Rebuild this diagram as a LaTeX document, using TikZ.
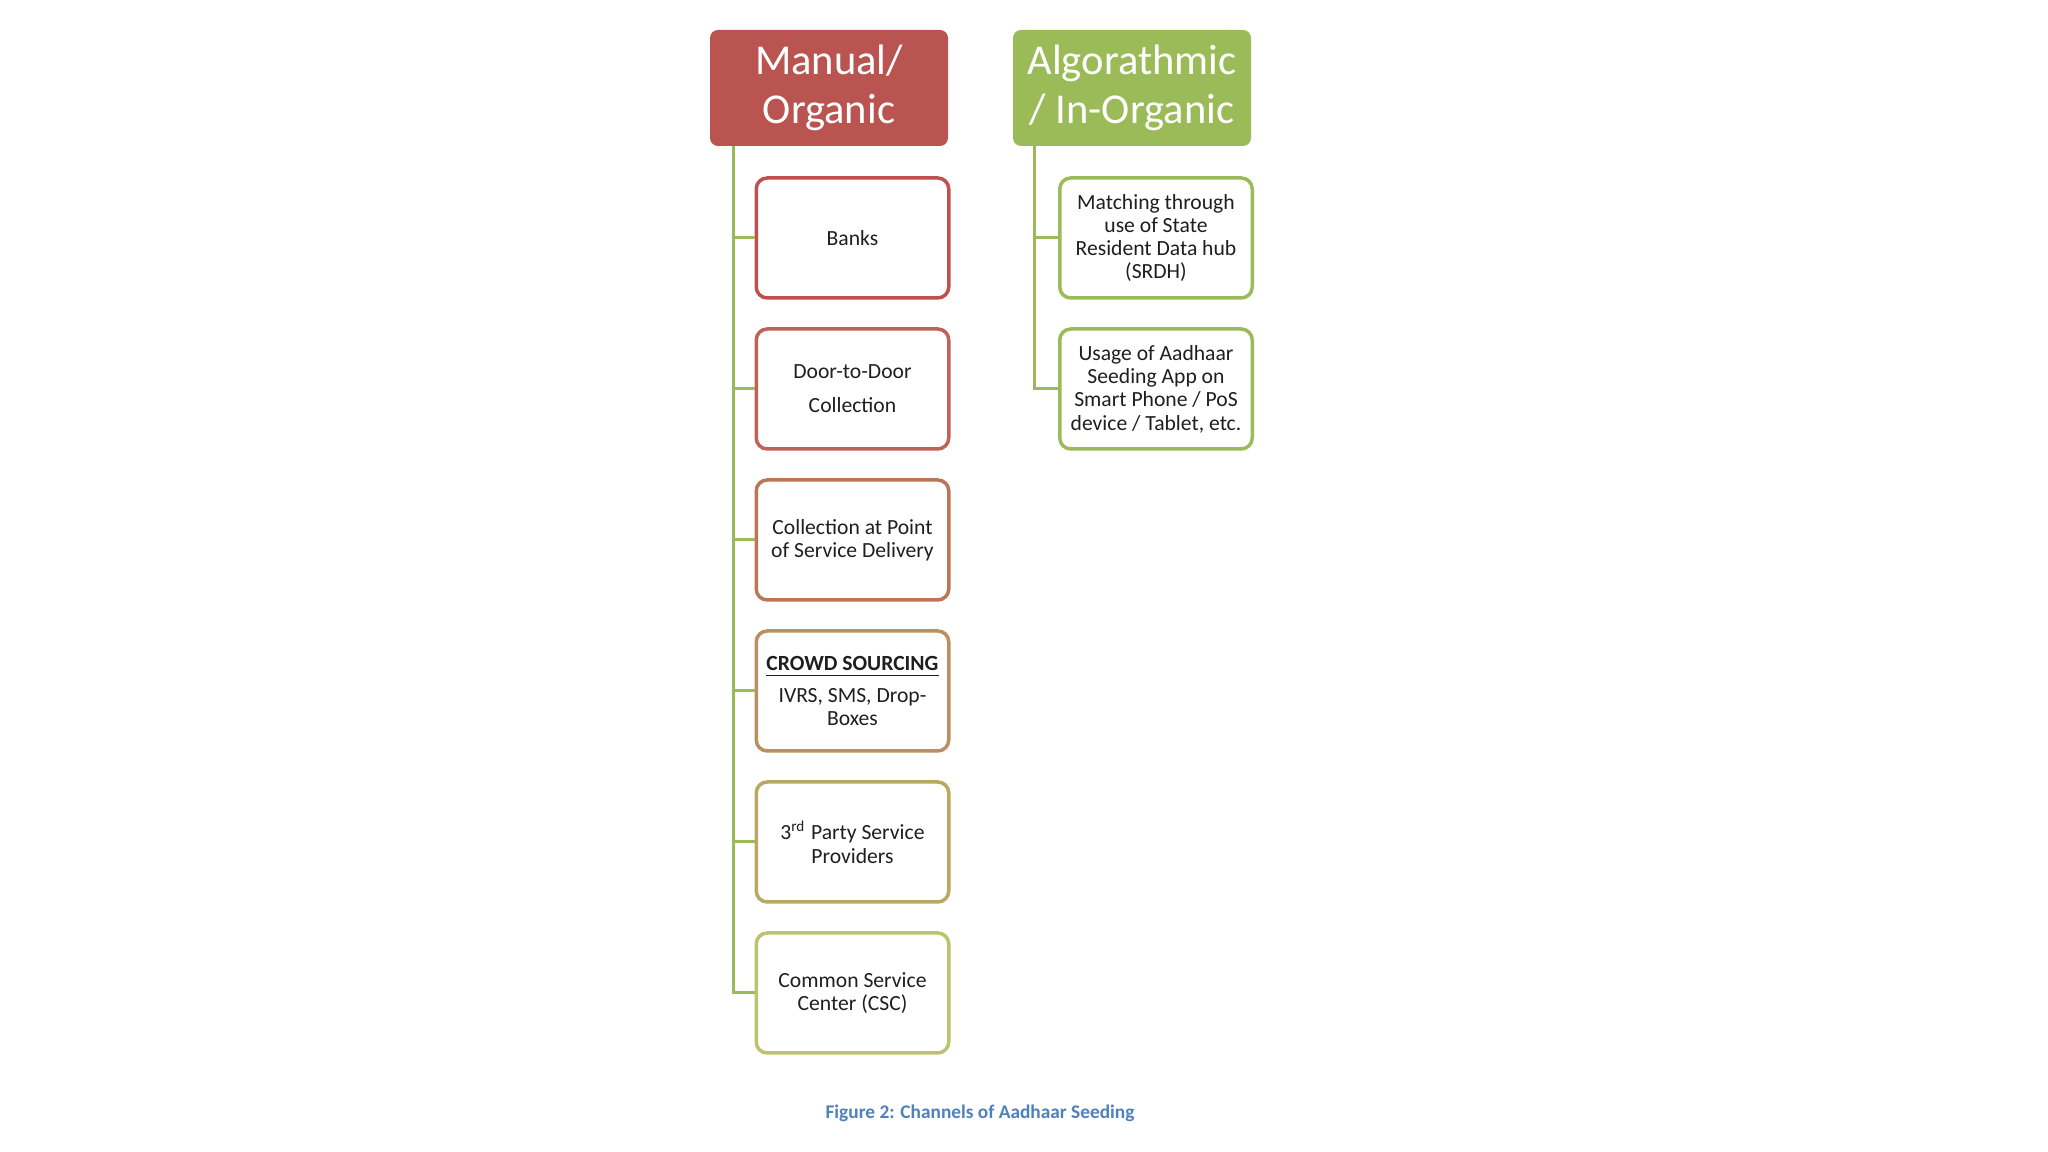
\documentclass[tikz,border=0pt]{standalone}
\usepackage{fontspec}
\setmainfont{Carlito}
\definecolor{headred}{HTML}{B95450}
\definecolor{headgreen}{HTML}{9BBB59}
\definecolor{rimA}{HTML}{C0504D}
\definecolor{rimB}{HTML}{C0625A}
\definecolor{rimC}{HTML}{BA7757}
\definecolor{rimD}{HTML}{BC905E}
\definecolor{rimE}{HTML}{B8A862}
\definecolor{rimF}{HTML}{BCC26E}
\definecolor{capblue}{HTML}{4F81BD}
\tikzset{
	head/.style={draw=none, rounded corners=0.08cm, minimum width=2.38cm, minimum height=1.16cm,
		text=white, align=center, inner sep=0pt, font=\fontsize{12.1}{13.8}\selectfont},
	leaf/.style={draw=#1, fill=white, line width=0.035cm, rounded corners=0.11cm,
		minimum width=1.925cm, minimum height=1.2cm, align=center, inner sep=0pt,
		text=black!88, font=\fontsize{6.15}{6.63}\selectfont},
	branch/.style={draw=headgreen, line width=0.03cm}
}
\begin{document}
\begin{tikzpicture}
			%%%%% START %%%%%
			
			\useasboundingbox[fill=white] (0, 0) rectangle (20.48, 11.52);
			
			\node[head, fill=headred] (manual) at (8.29, 10.64) {Manual/\\Organic};
			\node[head, fill=headgreen] (algo) at (11.32, 10.64) {Algorathmic\\/ In-Organic};
			
			\coordinate (mtop) at (7.33, 10.06);
			\coordinate (atop) at (10.34, 10.06);
			
			\node[leaf=rimA] (banks) at (8.525, 9.14) {Banks};
			\node[leaf=rimB, font=\fontsize{6.15}{9.7}\selectfont] (door) at (8.525, 7.63) {Door-to-Door\\Collection};
			\node[leaf=rimC] (point) at (8.525, 6.12) {Collection at Point\\of Service Delivery};
			\node[leaf=rimD] (crowd) at (8.525, 4.61) {{\bfseries\underline{CROWD SOURCING}}\\[2.4pt]IVRS, SMS, Drop-\\Boxes};
			\node[leaf=rimE] (party) at (8.525, 3.10) {3\textsuperscript{rd} Party Service\\Providers};
			\node[leaf=rimF] (csc) at (8.525, 1.59) {Common Service\\Center (CSC)};
			
			\node[leaf=headgreen] (srdh) at (11.56, 9.14) {Matching through\\use of State\\Resident Data hub\\(SRDH)};
			\node[leaf=headgreen] (app) at (11.56, 7.63) {Usage of Aadhaar\\Seeding App on\\Smart Phone / PoS\\device / Tablet, etc.};
			
			\draw[branch] (mtop) |- (csc.west);
			\foreach \leafname in {banks, door, point, crowd, party}
				\draw[branch] (mtop |- \leafname.west) -- (\leafname.west);
			
			\draw[branch] (atop) |- (app.west);
			\draw[branch] (atop |- srdh.west) -- (srdh.west);
			
			\node[anchor=base, text=capblue, font=\bfseries\fontsize{5.5}{6}\selectfont] (caption) at (9.80, 0.33) {Figure 2: Channels of Aadhaar Seeding};
			
			%%%%% END %%%%%
\end{tikzpicture}
\end{document}
